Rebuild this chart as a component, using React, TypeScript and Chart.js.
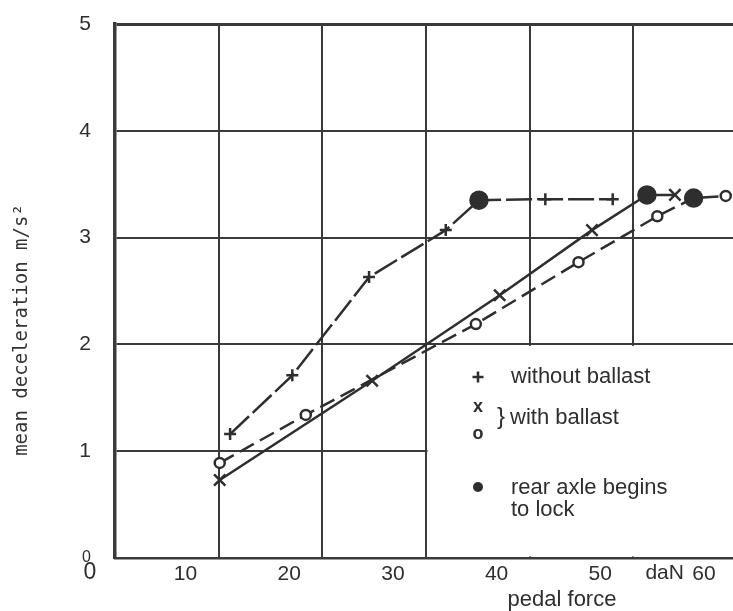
import React, { useEffect, useRef } from "react";
import { Chart, registerables } from "chart.js";

Chart.register(...registerables);

// ---- data (pedal force in daN, mean deceleration in m/s²) ----
const xTickValues = [10, 20, 30, 40, 50, 60];
const xGridValues = [13.2, 23.2, 33.2, 43.2, 53.2];
const yTickValues = [0, 1, 2, 3, 4, 5];

const noBallastForce = [14.3, 20.3, 27.7, 35.1, 38.3, 44.7, 51.2];
const noBallastDecel = [1.16, 1.71, 2.63, 3.07, 3.35, 3.36, 3.36];
const noBallastLock = [false, false, false, false, true, false, false];

const ballastXForce = [13.3, 28.0, 40.3, 49.2, 54.5, 57.2];
const ballastXDecel = [0.73, 1.66, 2.46, 3.07, 3.4, 3.4];
const ballastXLock = [false, false, false, false, true, false];

const ballastOForce = [13.3, 21.6, 38.0, 47.9, 55.5, 59.0, 62.1];
const ballastODecel = [0.89, 1.34, 2.19, 2.77, 3.2, 3.37, 3.39];
const ballastOLock = [false, false, false, false, false, true, false];

const xMin = 3.2;
const xMax = 62.8;

const INK = "#2e2e2e";
const GRID = "#3a3a3a";
const SANS = "'Liberation Sans', Arial, Helvetica, sans-serif";
const MONO = "'DejaVu Sans Mono', 'Liberation Mono', monospace";

function toPoints(xs: number[], ys: number[]) {
  return xs.map((x, i) => ({ x, y: ys[i] }));
}

function App() {
  const canvasRef = useRef<HTMLCanvasElement | null>(null);

  useEffect(() => {
    if (!canvasRef.current) return;

    const decor = {
      id: "decor",
      beforeDatasetsDraw(chart: any) {
        const { ctx, chartArea, scales } = chart;
        const left = scales.x.getPixelForValue(33.2) + 1.5;
        const top = scales.y.getPixelForValue(2) + 1.5;
        const bottom = scales.y.getPixelForValue(0) - 1.6;
        ctx.save();
        ctx.fillStyle = "#ffffff";
        ctx.fillRect(left, top, chartArea.right - left + 2, bottom - top);
        ctx.restore();
      },
      afterDraw(chart: any) {
        const { ctx, chartArea, scales } = chart;
        const L = chartArea.left;
        const T = chartArea.top;
        ctx.save();
        ctx.fillStyle = INK;
        ctx.strokeStyle = INK;

        // legend
        const mx = L + 363;
        ctx.lineWidth = 2.5;
        ctx.beginPath();
        ctx.moveTo(mx - 5.5, T + 353);
        ctx.lineTo(mx + 5.5, T + 353);
        ctx.moveTo(mx, T + 347.5);
        ctx.lineTo(mx, T + 358.5);
        ctx.stroke();
        ctx.font = `22px ${SANS}`;
        ctx.textAlign = "left";
        ctx.textBaseline = "middle";
        ctx.fillText("without ballast", L + 396, T + 353);
        ctx.textAlign = "center";
        ctx.font = `bold 18px ${SANS}`;
        ctx.fillText("x", mx, T + 383);
        ctx.fillText("o", mx, T + 410);
        ctx.font = `24px ${SANS}`;
        ctx.fillText("}", L + 386, T + 393);
        ctx.textAlign = "left";
        ctx.font = `22px ${SANS}`;
        ctx.fillText("with ballast", L + 395, T + 394);
        ctx.beginPath();
        ctx.arc(mx, T + 463, 5, 0, Math.PI * 2);
        ctx.fill();
        ctx.fillText("rear axle begins", L + 396, T + 464);
        ctx.fillText("to lock", L + 396, T + 486);

        // x axis title and unit
        const xs = scales.x;
        ctx.textAlign = "center";
        ctx.font = `22px ${SANS}`;
        ctx.fillText("pedal force", L + 447, chartArea.bottom + 42);
        ctx.textAlign = "right";
        ctx.font = `21px ${SANS}`;
        ctx.fillText("daN", xs.getPixelForValue(60) - 20, chartArea.bottom + 15);

        // origin zero
        ctx.textAlign = "center";
        ctx.font = `23px ${SANS}`;
        ctx.fillText("0", L - 25, chartArea.bottom + 15);

        // y axis title (monospace, rotated)
        ctx.translate(22, T + 306);
        ctx.rotate(-Math.PI / 2);
        ctx.font = `19px ${MONO}`;
        ctx.fillStyle = "#333";
        ctx.fillText("mean deceleration m/s²", 0, 0);
        ctx.restore();
      },
    };

    const chart = new Chart(canvasRef.current, {
      type: "line",
      data: {
        datasets: [
          {
            label: "without ballast",
            data: toPoints(noBallastForce, noBallastDecel),
            borderColor: INK,
            borderWidth: 2.5,
            borderDash: [26, 5],
            pointStyle: noBallastLock.map((l) => (l ? "circle" : "cross")) as any,
            pointRadius: noBallastLock.map((l) => (l ? 8.5 : 6)),
            pointBorderWidth: 2.5,
            pointBackgroundColor: INK,
            pointBorderColor: INK,
            fill: false,
            tension: 0,
          },
          {
            label: "with ballast (x)",
            data: toPoints(ballastXForce, ballastXDecel),
            borderColor: INK,
            borderWidth: 2.5,
            pointStyle: ballastXLock.map((l) => (l ? "circle" : "crossRot")) as any,
            pointRadius: ballastXLock.map((l) => (l ? 8.5 : 8)),
            pointBorderWidth: 2.5,
            pointBackgroundColor: INK,
            pointBorderColor: INK,
            fill: false,
            tension: 0,
          },
          {
            label: "with ballast (o)",
            data: toPoints(ballastOForce, ballastODecel),
            borderColor: INK,
            borderWidth: 2.5,
            borderDash: [16, 7],
            pointStyle: "circle",
            pointRadius: ballastOLock.map((l) => (l ? 8.5 : 5)),
            pointBorderWidth: 2.5,
            pointBackgroundColor: ballastOLock.map((l) => (l ? INK : "#ffffff")),
            pointBorderColor: INK,
            fill: false,
            tension: 0,
          },
        ],
      },
      options: {
        responsive: false,
        animation: false,
        events: [],
        layout: { autoPadding: false, padding: { top: 24, right: 0, left: 0, bottom: 0 } },
        plugins: {
          legend: { display: false },
          tooltip: { enabled: false },
          title: { display: false },
        },
        scales: {
          x: {
            type: "linear",
            min: xMin,
            max: xMax,
            afterBuildTicks: (scale: any) => {
              const vals = [...xGridValues, ...xTickValues].sort((a, b) => a - b);
              scale.ticks = vals.map((v) => ({ value: v }));
            },
            afterFit: (scale: any) => {
              scale.height = 53;
              scale.paddingLeft = 0;
              scale.paddingRight = 0;
              scale.paddingTop = 0;
              scale.paddingBottom = 0;
            },
            ticks: {
              autoSkip: false,
              maxRotation: 0,
              padding: 4,
              color: INK,
              font: { family: SANS, size: 21 },
              callback: (v: any) => (xTickValues.includes(Number(v)) ? String(v) : ""),
            },
            grid: {
              drawTicks: false,
              color: (c: any) =>
                c.tick && xTickValues.includes(c.tick.value) ? "rgba(0,0,0,0)" : GRID,
              lineWidth: 2,
            },
            border: { display: true, color: GRID, width: 2.5 },
          },
          y: {
            type: "linear",
            min: 0,
            max: 5,
            afterBuildTicks: (scale: any) => {
              scale.ticks = yTickValues.map((v) => ({ value: v }));
            },
            afterFit: (scale: any) => {
              scale.width = 115;
              scale.paddingLeft = 0;
              scale.paddingRight = 0;
              scale.paddingTop = 0;
              scale.paddingBottom = 0;
            },
            ticks: {
              padding: 24,
              color: INK,
              font: (c: any) =>
                c.tick && c.tick.value === 0
                  ? { family: SANS, size: 16 }
                  : { family: SANS, size: 21 },
              callback: (v: any) => String(v),
            },
            grid: {
              drawTicks: false,
              color: GRID,
              lineWidth: (c: any) => (c.tick && c.tick.value === 5 ? 3 : 2),
            },
            border: { display: true, color: GRID, width: 3.5 },
          },
        },
      },
      plugins: [decor],
    });

    return () => chart.destroy();
  }, []);

  return (
    <div
      style={{
        position: "absolute",
        left: 0,
        top: 0,
        width: 733,
        height: 611,
        background: "#ffffff",
      }}
    >
      <canvas ref={canvasRef} width={733} height={611} style={{ display: "block" }} />
    </div>
  );
}

export default App;
